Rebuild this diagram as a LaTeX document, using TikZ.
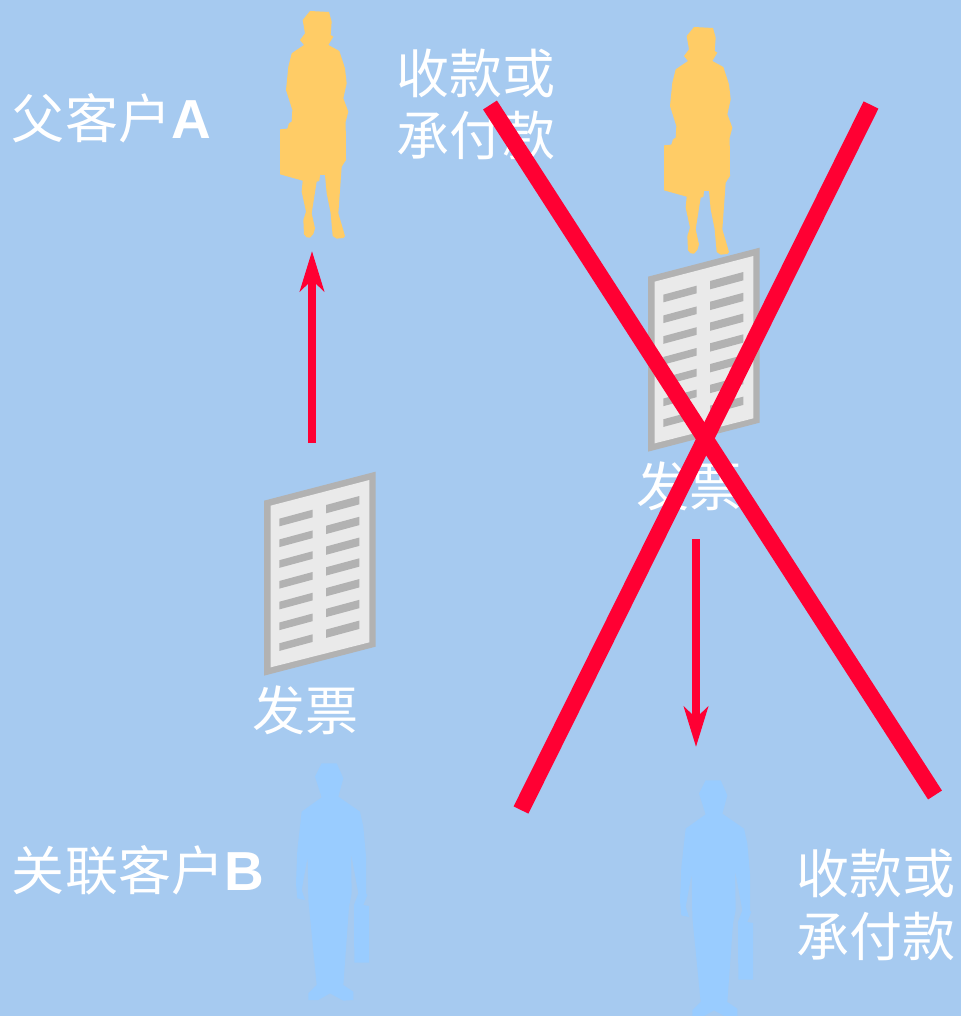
\documentclass[tikz,border=0pt]{standalone}
\usepackage{fontspec}
\setmainfont{Liberation Sans}
\newfontfamily\cjk{Noto Sans CJK SC}
\usetikzlibrary{arrows.meta}
\definecolor{bgblue}{HTML}{A6CAF0}
\definecolor{womanc}{HTML}{FFCC66}
\definecolor{manc}{HTML}{99CCFF}
\definecolor{docedge}{HTML}{B2B2B2}
\definecolor{docface}{HTML}{EAEAEA}
\definecolor{redc}{HTML}{FF0033}
\tikzset{
  x=1pt,y=-1pt,
  lbl/.style={text=white,inner sep=0pt,outer sep=0pt,font=\fontsize{53}{63}\selectfont\cjk},
  redarrow/.style={draw=redc,line width=8pt},
  cross/.style={draw=redc,line width=16.5pt},
  woman/.pic={
    \fill[womanc,xshift=260pt,scale=1/3] (150,33)--(207,36)--(215,65)--(212,105)--(220,110)--(205,135)--(238,153)--(255,205)--(260,250)--(250,295)--(265,335)--(257,365)--(258,480)--(245,500)--(235,640)--(255,708)--(250,714)--(230,716)--(218,708)--(212,640)--(200,580)--(195,525)--(180,525)--(178,543)--(170,545)--(155,640)--(165,685)--(160,702)--(150,713)--(140,712)--(132,703)--(130,660)--(138,635)--(125,575)--(128,542)--(60,523)--(60,388)--(82,386)--(87,370)--(95,365)--(97,330)--(78,270)--(85,200)--(95,160)--(132,135)--(120,120)--(135,100)--(128,60)--cycle;
  },
  man/.pic={
    \fill[manc,xshift=280pt,yshift=-750pt,scale=1/3] (125,40)--(170,40)--(190,85)--(175,140)--(240,185)--(250,230)--(258,320)--(258,430)--(262,435)--(250,465)--(267,468)--(267,638)--(223,638)--(222,465)--(235,430)--(213,310)--(215,430)--(207,470)--(190,705)--(220,725)--(220,750)--(190,752)--(150,730)--(115,750)--(85,750)--(85,730)--(110,705)--(85,450)--(83,320)--(65,420)--(75,450)--(52,445)--(48,400)--(52,300)--(65,185)--(125,142)--(105,80)--cycle;
  },
  invoice/.pic={
    \begin{scope}[xshift=250pt,yshift=-460pt,scale=1/3]
    \fill[docedge] (42,122)--(377,35)--(377,560)--(42,647)--cycle;
    \fill[docface] (62,137)--(358,60)--(358,547)--(62,622)--cycle;
    \foreach \i in {0,...,6}{
      \fill[docedge] (88,176+62.3*\i)--(188,149+62.3*\i)--(188,172+62.3*\i)--(88,199+62.3*\i)--cycle;
      \fill[docedge] (228,135+62.3*\i)--(328,108+62.3*\i)--(328,133+62.3*\i)--(228,160+62.3*\i)--cycle;
    }
    \end{scope}
  }
}
\begin{document}
\begin{tikzpicture}
\fill[bgblue] (0,0) rectangle (961,1016);
\useasboundingbox (0,0) rectangle (961,1016);
% figures
\pic (w1) at (0,0) {woman};
\pic (w2) at (384,16) {woman};
\pic (m1) at (0,0) {man};
\pic (m2) at (384,17) {man};
\pic (d1) at (0,0) {invoice};
\pic (d2) at (384,-224) {invoice};
% labels
\node[lbl,anchor=west] (pa) at (12,118) {父客户{\fontsize{55}{63}\selectfont\fontspec{Liberation Sans Bold}A}};
\node[lbl,anchor=west] (pb) at (12,870) {关联客户{\fontsize{55}{63}\selectfont\fontspec{Liberation Sans Bold}B}};
\node[lbl] (t1a) at (476,73) {收款或};
\node[lbl] (t1b) at (476,135) {承付款};
\node[lbl] (t2a) at (876,873) {收款或};
\node[lbl] (t2b) at (876,936) {承付款};
\node[lbl] (f1) at (305,710) {发票};
\node[lbl] (f2) at (689,486) {发票};
% arrows
\coordinate (u0) at (312,443);
\coordinate (u1) at (312,251);
\coordinate (v0) at (696,539);
\coordinate (v1) at (696,747);
\draw[redarrow,-{Stealth[length=40pt,width=24pt,inset=11pt]}] (u0) -- (u1);
\draw[redarrow,-{Stealth[length=40pt,width=24pt,inset=11pt]}] (v0) -- (v1);
% cross
\coordinate (c1a) at (490,105);
\coordinate (c1b) at (935,795);
\coordinate (c2a) at (871,105);
\coordinate (c2b) at (521,810);
\draw[cross] (c1a) -- (c1b);
\draw[cross] (c2a) -- (c2b);
\end{tikzpicture}
\end{document}
